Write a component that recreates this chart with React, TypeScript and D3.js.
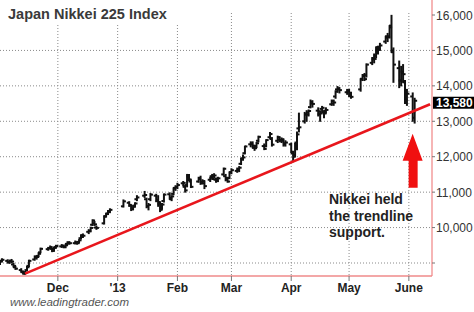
import * as d3 from 'd3'

const W = 474, H = 312
const PLOT = { left: 0, right: 432, top: 13, bottom: 276 }

// daily bars: [date, open, high, low, close]
const BARS: [string, number, number, number, number][] = [
  ['2012-11-01', 8990, 9080, 8960, 9050],
  ['2012-11-02', 9050, 9120, 9030, 9090],
  ['2012-11-05', 9060, 9090, 9000, 9030],
  ['2012-11-06', 9020, 9080, 8990, 9050],
  ['2012-11-07', 9060, 9100, 9010, 9040],
  ['2012-11-08', 8960, 8990, 8890, 8920],
  ['2012-11-09', 8880, 8910, 8820, 8840],
  ['2012-11-12', 8800, 8840, 8740, 8760],
  ['2012-11-13', 8740, 8770, 8690, 8720],
  ['2012-11-14', 8700, 8760, 8680, 8730],
  ['2012-11-15', 8800, 8900, 8780, 8880],
  ['2012-11-16', 8920, 9080, 8900, 9060],
  ['2012-11-19', 9100, 9200, 9080, 9180],
  ['2012-11-20', 9150, 9200, 9110, 9170],
  ['2012-11-21', 9200, 9290, 9180, 9260],
  ['2012-11-22', 9300, 9420, 9290, 9400],
  ['2012-11-26', 9390, 9440, 9360, 9420],
  ['2012-11-27', 9420, 9480, 9400, 9450],
  ['2012-11-28', 9400, 9420, 9320, 9350],
  ['2012-11-29', 9350, 9440, 9330, 9430],
  ['2012-11-30', 9450, 9500, 9420, 9480],
  ['2012-12-03', 9470, 9520, 9440, 9490],
  ['2012-12-04', 9470, 9500, 9430, 9460],
  ['2012-12-05', 9450, 9530, 9430, 9500],
  ['2012-12-06', 9540, 9600, 9520, 9580],
  ['2012-12-07', 9560, 9600, 9530, 9560],
  ['2012-12-10', 9560, 9620, 9540, 9570],
  ['2012-12-11', 9560, 9610, 9530, 9560],
  ['2012-12-12', 9590, 9660, 9570, 9640],
  ['2012-12-13', 9700, 9800, 9680, 9780],
  ['2012-12-14', 9760, 9820, 9720, 9770],
  ['2012-12-17', 9880, 9940, 9830, 9900],
  ['2012-12-18', 9910, 10010, 9880, 9990],
  ['2012-12-19', 10080, 10220, 10060, 10200],
  ['2012-12-20', 10120, 10170, 10060, 10090],
  ['2012-12-21', 10000, 10040, 9950, 9990],
  ['2012-12-25', 10120, 10330, 10100, 10310],
  ['2012-12-26', 10320, 10400, 10300, 10380],
  ['2012-12-27', 10400, 10480, 10370, 10450],
  ['2012-12-28', 10440, 10530, 10420, 10500],
  ['2013-01-04', 10600, 10780, 10580, 10740],
  ['2013-01-07', 10700, 10730, 10600, 10640],
  ['2013-01-08', 10620, 10640, 10480, 10520],
  ['2013-01-09', 10540, 10620, 10500, 10590],
  ['2013-01-10', 10620, 10700, 10580, 10680],
  ['2013-01-11', 10800, 10900, 10760, 10850],
  ['2013-01-15', 10900, 11020, 10850, 10920],
  ['2013-01-16', 10800, 10830, 10560, 10600],
  ['2013-01-17', 10600, 10680, 10500, 10640],
  ['2013-01-18', 10800, 10960, 10760, 10930],
  ['2013-01-21', 10900, 10940, 10730, 10770],
  ['2013-01-22', 10750, 10900, 10600, 10720],
  ['2013-01-23', 10680, 10720, 10450, 10500],
  ['2013-01-24', 10550, 10680, 10520, 10650],
  ['2013-01-25', 10750, 10950, 10720, 10930],
  ['2013-01-28', 10940, 10980, 10800, 10840],
  ['2013-01-29', 10800, 10900, 10760, 10880],
  ['2013-01-30', 10950, 11120, 10930, 11100],
  ['2013-01-31', 11120, 11180, 11050, 11140],
  ['2013-02-01', 11150, 11250, 11100, 11200],
  ['2013-02-04', 11250, 11300, 11180, 11260],
  ['2013-02-05', 11150, 11200, 11000, 11050],
  ['2013-02-06', 11200, 11500, 11150, 11460],
  ['2013-02-07', 11450, 11500, 11330, 11360],
  ['2013-02-08', 11300, 11350, 11130, 11150],
  ['2013-02-12', 11300, 11420, 11280, 11370],
  ['2013-02-13', 11400, 11450, 11220, 11250],
  ['2013-02-14', 11300, 11350, 11240, 11310],
  ['2013-02-15', 11250, 11320, 11100, 11170],
  ['2013-02-18', 11350, 11420, 11300, 11410],
  ['2013-02-19', 11450, 11500, 11360, 11370],
  ['2013-02-20', 11450, 11520, 11400, 11470],
  ['2013-02-21', 11350, 11400, 11280, 11310],
  ['2013-02-22', 11350, 11420, 11300, 11390],
  ['2013-02-25', 11500, 11680, 11480, 11660],
  ['2013-02-26', 11450, 11500, 11320, 11400],
  ['2013-02-27', 11350, 11420, 11280, 11300],
  ['2013-02-28', 11400, 11570, 11380, 11560],
  ['2013-03-01', 11560, 11660, 11520, 11620],
  ['2013-03-04', 11600, 11680, 11560, 11650],
  ['2013-03-05', 11620, 11720, 11580, 11690],
  ['2013-03-06', 11800, 11960, 11780, 11940],
  ['2013-03-07', 11950, 12050, 11900, 11980],
  ['2013-03-08', 12100, 12300, 12080, 12290],
  ['2013-03-11', 12350, 12420, 12280, 12350],
  ['2013-03-12', 12380, 12420, 12250, 12310],
  ['2013-03-13', 12250, 12320, 12180, 12240],
  ['2013-03-14', 12300, 12400, 12260, 12380],
  ['2013-03-15', 12450, 12580, 12420, 12560],
  ['2013-03-18', 12300, 12360, 12200, 12220],
  ['2013-03-19', 12300, 12480, 12280, 12470],
  ['2013-03-21', 12550, 12680, 12520, 12640],
  ['2013-03-22', 12500, 12540, 12300, 12340],
  ['2013-03-25', 12450, 12580, 12400, 12550],
  ['2013-03-26', 12480, 12560, 12420, 12470],
  ['2013-03-27', 12450, 12530, 12400, 12490],
  ['2013-03-28', 12450, 12500, 12300, 12340],
  ['2013-03-29', 12380, 12450, 12300, 12400],
  ['2013-04-01', 12350, 12380, 12120, 12140],
  ['2013-04-02', 12100, 12150, 11860, 12000],
  ['2013-04-03', 12050, 12380, 12000, 12360],
  ['2013-04-04', 12400, 12700, 12200, 12630],
  ['2013-04-05', 12800, 13230, 12700, 12830],
  ['2013-04-08', 13000, 13250, 12950, 13190],
  ['2013-04-09', 13200, 13300, 13000, 13190],
  ['2013-04-10', 13250, 13320, 13150, 13290],
  ['2013-04-11', 13400, 13600, 13380, 13550],
  ['2013-04-12', 13500, 13580, 13400, 13490],
  ['2013-04-15', 13300, 13380, 13150, 13280],
  ['2013-04-16', 13200, 13290, 13000, 13220],
  ['2013-04-17', 13350, 13420, 13250, 13380],
  ['2013-04-18', 13250, 13300, 13100, 13220],
  ['2013-04-19', 13300, 13380, 13230, 13320],
  ['2013-04-22', 13480, 13600, 13450, 13570],
  ['2013-04-23', 13500, 13600, 13450, 13530],
  ['2013-04-24', 13700, 13860, 13650, 13840],
  ['2013-04-25', 13900, 13980, 13820, 13930],
  ['2013-04-26', 13900, 13950, 13800, 13880],
  ['2013-04-30', 13820, 13900, 13760, 13860],
  ['2013-05-01', 13850, 13900, 13700, 13800],
  ['2013-05-02', 13800, 13820, 13650, 13690],
  ['2013-05-07', 13900, 14200, 13850, 14180],
  ['2013-05-08', 14200, 14320, 14150, 14280],
  ['2013-05-09', 14300, 14350, 14150, 14190],
  ['2013-05-10', 14300, 14620, 14250, 14600],
  ['2013-05-13', 14650, 14800, 14600, 14780],
  ['2013-05-14', 14750, 14900, 14650, 14760],
  ['2013-05-15', 14850, 15100, 14800, 15090],
  ['2013-05-16', 15000, 15120, 14900, 15040],
  ['2013-05-17', 15100, 15200, 15000, 15140],
  ['2013-05-20', 15250, 15400, 15200, 15360],
  ['2013-05-21', 15400, 15480, 15250, 15380],
  ['2013-05-22', 15400, 15700, 15350, 15650],
  ['2013-05-23', 15700, 15990, 14950, 15000],
  ['2013-05-24', 14950, 15070, 14100, 14600],
  ['2013-05-27', 14500, 14700, 13950, 14150],
  ['2013-05-28', 14150, 14550, 14000, 14350],
  ['2013-05-29', 14400, 14600, 14100, 14330],
  ['2013-05-30', 14100, 14150, 13500, 13600],
  ['2013-05-31', 13600, 13900, 13450, 13780],
  ['2013-06-03', 13700, 13800, 13000, 13260],
  ['2013-06-04', 13100, 13650, 12950, 13580],
]

const Y_TICKS = [9000, 10000, 11000, 12000, 13000, 14000, 15000, 16000]
const Y_LABELS = [10000, 11000, 12000, 13000, 14000, 15000, 16000]
const MONTHS = ['2012-12-01', '2013-01-01', '2013-02-01', '2013-03-01', '2013-04-01', '2013-05-01', '2013-06-01']
const MONTH_LABELS = ['Dec', "'13", 'Feb', 'Mar', 'Apr', 'May', 'June']
const TREND: [string, number][] = [['2012-11-14', 8700], ['2013-06-12', 13480]]
const LAST = 13580
const NOTE = ['Nikkei held', 'the trendline', 'support.']

const parse = d3.timeParse('%Y-%m-%d')
const FONT = 'Arial, "Liberation Sans", sans-serif'

export default function App() {
  const x = d3.scaleTime()
    .domain([parse('2012-11-01')!, parse('2013-06-13')!])
    .range([PLOT.left, PLOT.right])
  const y = d3.scaleLinear().domain([9000, 16000]).range([263, 15])

  const fmt = d3.format(',')
  const trend = d3.line<[string, number]>().x(d => x(parse(d[0])!)).y(d => y(d[1]))(TREND)!

  // arrow pointing up at the last bar
  const ax = x(parse('2013-06-04')!) - 2
  const tipY = y(12650)
  const arrow = `M${ax},${tipY} L${ax + 10},${tipY + 27} L${ax + 5},${tipY + 27} L${ax + 5},${tipY + 54} L${ax - 4},${tipY + 54} L${ax - 4},${tipY + 27} L${ax - 10},${tipY + 27} Z`

  return (
    <svg width={W} height={H} style={{ position: 'absolute', left: 0, top: 0, background: '#fff' }}>
      {/* grid */}
      {Y_TICKS.filter(v => v < 16000).map(v => (
        <line key={v} x1={PLOT.left} x2={PLOT.right} y1={y(v)} y2={y(v)}
          stroke="#8a8a8a" strokeWidth={1} strokeDasharray="1 2" />
      ))}
      {MONTHS.map(m => (
        <line key={m} x1={x(parse(m)!)} x2={x(parse(m)!)} y1={PLOT.top} y2={PLOT.bottom}
          stroke="#8a8a8a" strokeWidth={1} strokeDasharray="1 2" />
      ))}

      {/* title */}
      <rect x={0} y={0} width={205} height={23} fill="#fff" />
      <text x={8} y={19} fontFamily={FONT} fontWeight="bold" fontSize={14.5} fill="#3a3a3a">
        Japan Nikkei 225 Index
      </text>

      {/* OHLC bars */}
      <g stroke="#111" strokeWidth={2}>
        {BARS.map(([d, o, h, l, c]) => {
          const cx = x(parse(d)!)
          return (
            <g key={d}>
              <line x1={cx} x2={cx} y1={y(h) - 0.5} y2={y(l) + 0.5} />
              <line x1={cx - 2.5} x2={cx} y1={y(o)} y2={y(o)} />
              <line x1={cx} x2={cx + 2.5} y1={y(c)} y2={y(c)} />
            </g>
          )
        })}
      </g>

      {/* trendline */}
      <path d={trend} fill="none" stroke="#e8161c" strokeWidth={2.6} />

      {/* axes */}
      <line x1={PLOT.left} x2={PLOT.right} y1={PLOT.bottom} y2={PLOT.bottom} stroke="#e85050" strokeWidth={1.2} />
      <line x1={PLOT.right} x2={PLOT.right} y1={0} y2={PLOT.bottom} stroke="#f08484" strokeWidth={1.2} />
      {MONTHS.map(m => (
        <line key={m} x1={x(parse(m)!)} x2={x(parse(m)!)} y1={PLOT.bottom} y2={PLOT.bottom + 5}
          stroke="#777" strokeWidth={1} />
      ))}
      {MONTHS.map((m, i) => (
        <text key={m} x={x(parse(m)!)} y={292} textAnchor="middle" fontFamily={FONT}
          fontWeight="bold" fontSize={12} fill="#222">{MONTH_LABELS[i]}</text>
      ))}
      {Y_TICKS.map(v => (
        <line key={v} x1={PLOT.right} x2={PLOT.right + 3} y1={y(v)} y2={y(v)} stroke="#777" strokeWidth={1} />
      ))}
      {Y_LABELS.map(v => (
        <text key={v} x={436} y={y(v) + 4.5} fontFamily={FONT} fontSize={12} fill="#333">{fmt(v)}</text>
      ))}

      {/* last value flag */}
      <rect x={PLOT.right + 1} y={y(LAST) - 4} width={W - PLOT.right - 1} height={12} fill="#000" />
      <text x={436} y={y(LAST) + 6} fontFamily={FONT} fontWeight="bold" fontSize={12} fill="#fff">{fmt(LAST)}</text>

      {/* annotation */}
      <path d={arrow} fill="#f01010" />
      {NOTE.map((t, i) => (
        <text key={t} x={329} y={204 + i * 16.5} fontFamily={FONT} fontWeight="bold" fontSize={14} fill="#222">{t}</text>
      ))}

      <text x={10} y={306} fontFamily={FONT} fontStyle="italic" fontSize={11.5} fill="#555">www.leadingtrader.com</text>
    </svg>
  )
}
